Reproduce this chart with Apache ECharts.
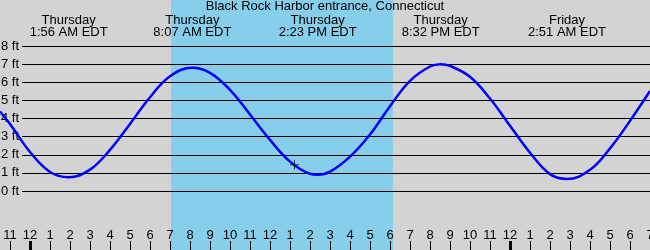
<!DOCTYPE html>
<html><head><meta charset="utf-8">
<script src="https://cdn.jsdelivr.net/npm/echarts@6/dist/echarts.min.js"></script>
<style>html,body{margin:0;padding:0;background:#d3d3d3}#c{width:650px;height:250px}</style>
</head><body><div id="c"></div>
<script>
const chartTitle = 'Black Rock Harbor entrance, Connecticut';
// hours from Thursday midnight, tide height in ft
const hours   = [-1.5, -1,   0,    1,    1.933, 3,    4,    5,   6,    7,    8.117, 9,    10,   11,   12,   13,   14,   14.383, 15,   16,  17,   18,   19,   20,   20.533, 21,  22,  23,  24,  25,   26,   26.85, 28,   29,   30,   31];
const heights = [4.38, 3.7,  2.15, 1.05, 0.76,  1.18, 2.27, 3.7, 5.17, 6.33, 6.8,   6.52, 5.58, 4.22, 2.82, 1.62, 0.95, 0.9,    1.07, 1.9, 3.12, 4.68, 6.08, 6.87, 7.0,    6.9, 6.3, 5.1, 3.6, 2.11, 0.93, 0.66,  1.17, 2.35, 3.87, 5.52];
const extremeHours = [1.933, 8.117, 14.383, 20.533, 26.85];
const extremeDays  = ['Thursday', 'Thursday', 'Thursday', 'Thursday', 'Friday'];
const extremeTimes = ['1:56 AM EDT', '8:07 AM EDT', '2:23 PM EDT', '8:32 PM EDT', '2:51 AM EDT'];
const hourTicks  = [-1,0,1,2,3,4,5,6,7,8,9,10,11,12,13,14,15,16,17,18,19,20,21,22,23,24,25,26,27,28,29,30,31];
const hourLabels = ['11','12','1','2','3','4','5','6','7','8','9','10','11','12','1','2','3','4','5','6','7','8','9','10','11','12','1','2','3','4','5','6','7'];
const midnightTicks = [0, 24];
const yTicks  = [0,1,2,3,4,5,6,7,8];
const yLabels = ['0 ft','1 ft','2 ft','3 ft','4 ft','5 ft','6 ft','7 ft','8 ft'];
const daylight = [7.05, 18.15];
const markerTime = 13.22, markerHeight = 1.45;

const X_MIN = -1.5, X_MAX = 31;
const FONT = 'Liberation Sans';
const txt = {fontFamily: FONT, fontSize: 13, color: '#000'};

const chart = echarts.init(document.getElementById('c'), null, {renderer: 'canvas'});
chart.setOption({
  backgroundColor: '#d3d3d3',
  animation: false,
  title: {text: chartTitle, left: 'center', top: 0, padding: 0,
          textStyle: Object.assign({fontWeight: 'normal'}, txt)},
  grid: [
    {left: 0, right: 0, top: 0, bottom: 0, containLabel: false, outerBoundsMode: 'none'},
    {left: 0, right: 0, top: 46, bottom: 59, containLabel: false, outerBoundsMode: 'none'},
    {left: 22, right: 0, top: 46, bottom: 59, containLabel: false, outerBoundsMode: 'none'}
  ],
  xAxis: [
    {gridIndex: 0, type: 'value', min: X_MIN, max: X_MAX, position: 'bottom', z: 6,
     axisLine: {show: false}, splitLine: {show: false},
     axisTick: {show: true, inside: true, length: 9, customValues: hourTicks, lineStyle: {color: '#000', width: 1}},
     axisLabel: Object.assign({show: true, inside: true, margin: 8, customValues: hourTicks,
       formatter: v => hourLabels[hourTicks.indexOf(Math.round(v))]}, txt)},
    {gridIndex: 0, type: 'value', min: X_MIN, max: X_MAX, position: 'bottom', z: 6,
     axisLine: {show: false}, splitLine: {show: false},
     axisTick: {show: true, inside: true, length: 9, customValues: midnightTicks, lineStyle: {color: '#000', width: 3}},
     axisLabel: {show: false}},
    {gridIndex: 0, type: 'value', min: X_MIN, max: X_MAX, position: 'top', z: 6,
     axisLine: {show: false}, splitLine: {show: false}, axisTick: {show: false},
     axisLabel: Object.assign({show: true, inside: true, margin: 14, customValues: extremeHours, lineHeight: 12, align: 'center',
       formatter: v => { const i = extremeHours.findIndex(e => Math.abs(e - v) < 1e-6); return extremeDays[i] + '\n' + extremeTimes[i]; }}, txt)},
    {gridIndex: 1, type: 'value', min: X_MIN, max: X_MAX, show: false},
    {gridIndex: 2, type: 'value', min: X_MIN + 22 / 20, max: X_MAX, show: false}
  ],
  yAxis: [
    {gridIndex: 0, type: 'value', min: 0, max: 1, show: false},
    {gridIndex: 1, type: 'value', min: 0, max: 8, show: false},
    {gridIndex: 2, type: 'value', min: 0, max: 8, interval: 1, position: 'left', z: 3,
     axisLine: {show: false}, axisTick: {show: false},
     splitLine: {show: true, lineStyle: {color: '#000', width: 1}},
     axisLabel: Object.assign({margin: 3, formatter: v => yLabels[yTicks.indexOf(Math.round(v))]}, txt)}
  ],
  series: [
    {type: 'line', xAxisIndex: 0, yAxisIndex: 0, data: [], z: 1, silent: true,
     markArea: {silent: true, itemStyle: {color: '#87ceeb'},
       data: [[{xAxis: daylight[0]}, {xAxis: daylight[1]}]]}},
    {type: 'line', xAxisIndex: 3, yAxisIndex: 1, z: 5, smooth: 0.4, symbol: 'none', clip: false,
     data: hours.map((h, i) => [h, heights[i]]),
     lineStyle: {color: '#0000ff', width: 2.5}},
    {type: 'scatter', xAxisIndex: 3, yAxisIndex: 1, z: 6, silent: true,
     data: [[markerTime, markerHeight]],
     symbol: 'path://M4,0h1v4h4v1h-4v4h-1v-4h-4v-1h4z', symbolSize: 9,
     itemStyle: {color: '#000'}}
  ]
});
</script></body></html>
